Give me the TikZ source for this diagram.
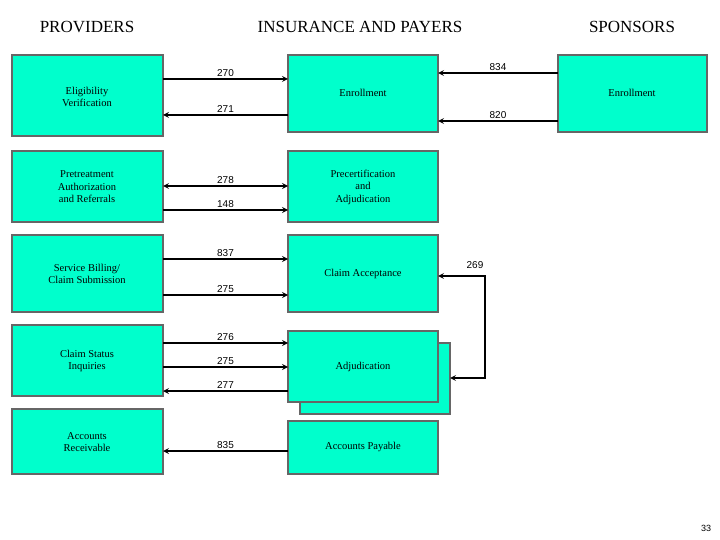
\documentclass[tikz,border=0pt]{standalone}
\usepackage{fontspec}
\setmainfont{Liberation Serif}
\newfontfamily\lab{Liberation Sans}
\begin{document}
\begin{tikzpicture}[x=1pt,y=-1pt,
 bx/.style={draw=gray!80!black,line width=1.2pt,fill=teal!0!cyan!0,fill={rgb,255:red,0;green,255;blue,204},align=center,font=\fontsize{10.5}{12.5}\selectfont},
 ar/.style={line width=1.6pt,-stealth},
 lb/.style={font=\lab\fontsize{10}{12}\selectfont,above,inner sep=2pt},
 hd/.style={font=\fontsize{17}{20}\selectfont}]
\useasboundingbox (0,0) rectangle (720,540);
\newcommand\bxx[6]{\path[bx] (#2,#3) rectangle (#4,#5); \node[align=center,font=\fontsize{10.5}{12.5}\selectfont] (#1) at ({(#2+#4)/2},{(#3+#5)/2}) {#6};}
\node[hd] (h1) at (87,27) {PROVIDERS};
\node[hd] (h2) at (360,27) {INSURANCE AND PAYERS};
\node[hd] (h3) at (632,27) {SPONSORS};
\node[font=\lab\fontsize{9}{10}\selectfont] (pg) at (706,528) {33};
% boxes
\path[bx] (12,55) rectangle (163,136); \node[align=center,font=\fontsize{10.5}{12.5}\selectfont] (ev) at (87,97) {Eligibility\\Verification};
\path[bx] (288,55) rectangle (438,132); \node[font=\fontsize{10.5}{12.5}\selectfont] (en) at (363,93) {Enrollment};
\path[bx] (558,55) rectangle (707,132); \node[font=\fontsize{10.5}{12.5}\selectfont] (sen) at (632,93) {Enrollment};
\path[bx] (12,151) rectangle (163,222); \node[align=center,font=\fontsize{10.5}{12.5}\selectfont] (pa) at (87,187) {Pretreatment\\Authorization\\and Referrals};
\path[bx] (288,151) rectangle (438,222); \node[align=center,font=\fontsize{10.5}{12.5}\selectfont] (pc) at (363,187) {Precertification\\and\\Adjudication};
\path[bx] (12,235) rectangle (163,312); \node[align=center,font=\fontsize{10.5}{12.5}\selectfont] (sb) at (87,274) {Service Billing/\\Claim Submission};
\path[bx] (288,235) rectangle (438,312); \node[font=\fontsize{10.5}{12.5}\selectfont] (ca) at (363,274) {Claim Acceptance};
\path[bx] (12,325) rectangle (163,396); \node[align=center,font=\fontsize{10.5}{12.5}\selectfont] (cs) at (87,361) {Claim Status\\Inquiries};
\path[bx] (300,343) rectangle (450,414);
\path[bx] (288,331) rectangle (438,402); \node[font=\fontsize{10.5}{12.5}\selectfont] (ad) at (363,367) {Adjudication};
\path[bx] (12,409) rectangle (163,474); \node[align=center,font=\fontsize{10.5}{12.5}\selectfont] (ar) at (87,442) {Accounts\\Receivable};
\path[bx] (288,421) rectangle (438,474); \node[font=\fontsize{10.5}{12.5}\selectfont] (ap) at (363,447) {Accounts Payable};
% arrows
\draw[ar] (163,79) -- node[lb]{270} (288,79);
\draw[ar] (288,115) -- node[lb]{271} (163,115);
\draw[ar] (558,73) -- node[lb]{834} (438,73);
\draw[ar] (558,121) -- node[lb]{820} (438,121);
\draw[ar,stealth-stealth] (163,186) -- node[lb]{278} (288,186);
\draw[ar] (163,210) -- node[lb]{148} (288,210);
\draw[ar] (163,259) -- node[lb]{837} (288,259);
\draw[ar] (163,295) -- node[lb]{275} (288,295);
\draw[ar] (163,343) -- node[lb]{276} (288,343);
\draw[ar] (163,367) -- node[lb]{275} (288,367);
\draw[ar] (288,391) -- node[lb]{277} (163,391);
\draw[ar] (288,451) -- node[lb]{835} (163,451);
\coordinate (c1) at (485,276); \coordinate (c2) at (485,378);
\draw[ar,stealth-stealth] (438,276) -- (c1) -- (c2) -- (450,378);
\node[font=\lab\fontsize{10}{12}\selectfont] (l269) at (475,265) {269};
\end{tikzpicture}
\end{document}
